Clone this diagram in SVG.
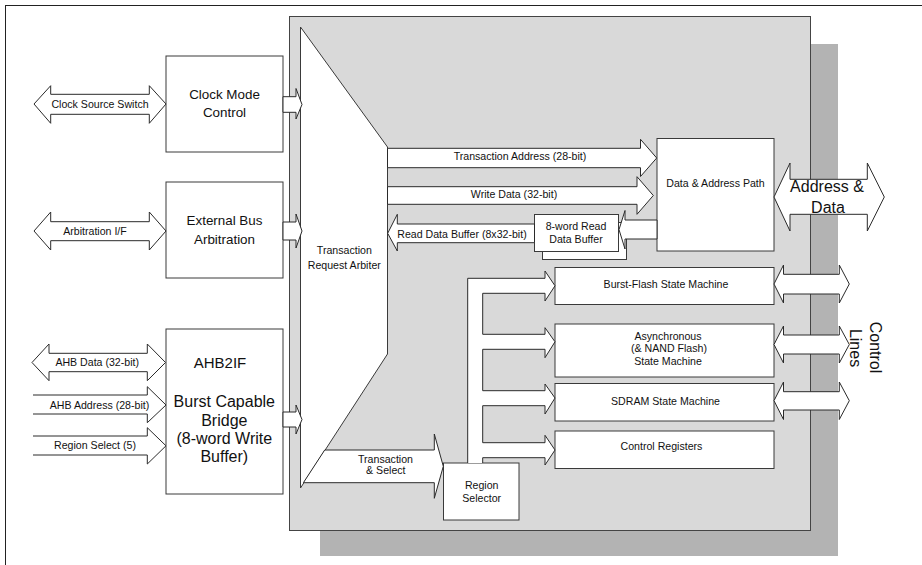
<svg xmlns="http://www.w3.org/2000/svg" width="922" height="565" viewBox="0 0 922 565">
<style>
.bx{fill:#fff;stroke:#3a3a3a;stroke-width:1}
.ar{fill:#fff;stroke:#2a2a2a;stroke-width:1;stroke-linejoin:miter}
text{font-family:"Liberation Sans",Arial,sans-serif;fill:#111;text-anchor:middle}
.s{font-size:10.6px}
.m{font-size:13.4px}
.l{font-size:16px}
</style>
<rect x="5.5" y="5.5" width="940" height="580" fill="#fff" stroke="#222"/>
<g id="frame">
<rect x="320" y="44" width="518" height="512" fill="#b3b3b3"/>
<rect x="289.5" y="16.5" width="521" height="514" fill="#d9d9d9" stroke="#444"/>
</g>
<g id="arbiter">
<polygon class="bx" points="300.5,27 387.5,147 387.5,354 300.5,488"/>
<text class="s" x="344.3" y="254.4">Transaction</text>
<text class="s" x="344.3" y="268.7">Request Arbiter</text>
</g>
<g id="clock-mode">
<rect class="bx" x="166" y="56" width="117" height="96"/>
<text class="m" x="224.5" y="98.7">Clock Mode</text>
<text class="m" x="224.5" y="116.7">Control</text>
</g>
<g id="ext-bus">
<rect class="bx" x="166" y="182" width="117" height="96"/>
<text class="m" x="224.5" y="225.4">External Bus</text>
<text class="m" x="224.5" y="243.8">Arbitration</text>
</g>
<g id="ahb2if">
<rect class="bx" x="166" y="329" width="117" height="165"/>
<text x="220" y="368.2" style="font-size:15px">AHB2IF</text>
<text class="l" x="224.3" y="407.3">Burst Capable</text>
<text class="l" x="224.3" y="425.6">Bridge</text>
<text class="l" x="224.3" y="443.7">(8-word Write</text>
<text class="l" x="224.3" y="462.3">Buffer)</text>
</g>
<g id="read-buffer">
<rect class="bx" x="542.5" y="222.5" width="84" height="37"/>
<rect class="bx" x="534.5" y="214.5" width="84" height="37"/>
<text class="s" x="576" y="230.4">8-word Read</text>
<text class="s" x="576" y="243">Data Buffer</text>
</g>
<g id="data-address-path">
<rect class="bx" x="657" y="138.5" width="117" height="112.5"/>
<text class="s" x="715.5" y="187">Data &amp; Address Path</text>
</g>
<g id="burst-flash">
<rect class="bx" x="555" y="267.5" width="219" height="37"/>
<text class="s" x="666" y="288">Burst-Flash State Machine</text>
</g>
<g id="async">
<rect class="bx" x="555" y="324" width="219" height="53"/>
<text class="s" x="668" y="340.4">Asynchronous</text>
<text class="s" x="669" y="352">(&amp; NAND Flash)</text>
<text class="s" x="668" y="364.7">State Machine</text>
</g>
<g id="sdram">
<rect class="bx" x="555" y="383.5" width="219" height="37.5"/>
<text class="s" x="665.5" y="405.4">SDRAM State Machine</text>
</g>
<g id="control-registers">
<rect class="bx" x="555" y="431" width="219" height="37.5"/>
<text class="s" x="661.5" y="450.4">Control Registers</text>
</g>
<g id="region-selector">
<rect class="bx" x="443.5" y="463" width="75.5" height="57"/>
<text class="s" x="481.7" y="489.4">Region</text>
<text class="s" x="481.7" y="502">Selector</text>
</g>
<g id="connectors">
<path class="ar" d="M34,104 L50.7,85.7 V94.3 H149.3 V85.7 L166,104 L149.3,123.3 V114.3 H50.7 V123.3 Z"/>
<text class="s" x="100" y="107.7">Clock Source Switch</text>
<path class="ar" d="M34,231 L50.7,212 V221.7 H149.3 V212 L166,231 L149.3,250 V240.7 H50.7 V250 Z"/>
<text class="s" x="95" y="234.7">Arbitration I/F</text>
<path class="ar" d="M32,362.5 L49,344 V353.3 H147.3 V344 L165.5,362.5 L147.3,380.7 V371.7 H49 V380.7 Z"/>
<text class="s" x="97.2" y="366.3">AHB Data (32-bit)</text>
<path class="ar" d="M33,395 H147.3 V386.7 L166,405 L147.3,422.7 V414 H33"/>
<text class="s" x="99.5" y="408.7">AHB Address (28-bit)</text>
<path class="ar" d="M33,436 H147.3 V427.7 L166,445.8 L147.3,464 V455 H33"/>
<text class="s" x="95" y="449.4">Region Select (5)</text>
<path class="ar" d="M283,96.7 H296 V88.5 L302,104.5 L296,119 V112.3 H283 Z"/>
<path class="ar" d="M283,222 H296 V214 L302,231 L296,248 V240 H283 Z"/>
<path class="ar" d="M283,412 H296 V405 L302,419.5 L296,434 V427 H283 Z"/>
<path class="ar" d="M387.5,148.3 H640.5 V139.3 L656.7,158 L640.5,176.5 V167.7 H387.5 Z"/>
<text class="s" x="520" y="160.4">Transaction Address (28-bit)</text>
<path class="ar" d="M387.5,186.7 H637 V176.7 L653.3,195.5 L637,214.3 V204.3 H387.5 Z"/>
<text class="s" x="514" y="198">Write Data (32-bit)</text>
<path class="ar" d="M534.5,224 H397.3 V214.3 L387.7,233.3 L397.3,251 V242.7 H534.5 Z"/>
<text class="s" x="462" y="238">Read Data Buffer (8x32-bit)</text>
<path class="ar" d="M657,220 H625 V210.5 L619,229.6 L625,249 V239 H657 Z"/>
<path class="ar" d="M324.7,450 H434.3 V434 L443.3,466.3 L434.3,498.3 V482.7 H303.4 Z"/>
<text class="s" x="385.5" y="462.7">Transaction</text>
<text class="s" x="385.8" y="473.7">&amp; Select</text>
<path class="ar" d="M467.7,463 V278.3 H545 V271 L555,285.8 L545,301 V293.3 H482.7 V334.3 H545 V327.7 L555,341.8 L545,357.7 V349.3 H482.7 V390.7 H545 V384 L555,398 L545,414 V405.7 H482.7 V442.7 H545 V435.3 L555,450 L545,465 V457.7 H482.7 V463"/>
<path class="ar" d="M774,197 L790,163 V179.3 H867.3 V163 L884.3,197 L867.3,231 V214.3 H790 V231 Z"/>
<text class="l" x="827" y="192.3">Address &amp;</text>
<text class="l" x="828" y="212.9">Data</text>
<path class="ar" d="M774,284 L783.5,265 V274.3 H839.3 V265 L849.3,284 L839.3,303 V294 H783.5 V303 Z"/>
<path class="ar" d="M774,344.5 L783.5,326 V335 H839.3 V326 L849.3,344.5 L839.3,363 V354 H783.5 V363 Z"/>
<path class="ar" d="M774,400.7 L783.5,382 V391.7 H839.3 V382 L849.3,400.7 L839.3,419.5 V410 H783.5 V419.5 Z"/>
<text class="l" transform="translate(876,347.5) rotate(90)" y="5.6">Control</text>
<text class="l" transform="translate(856,348) rotate(90)" y="5.6">Lines</text>
</g>
</svg>
